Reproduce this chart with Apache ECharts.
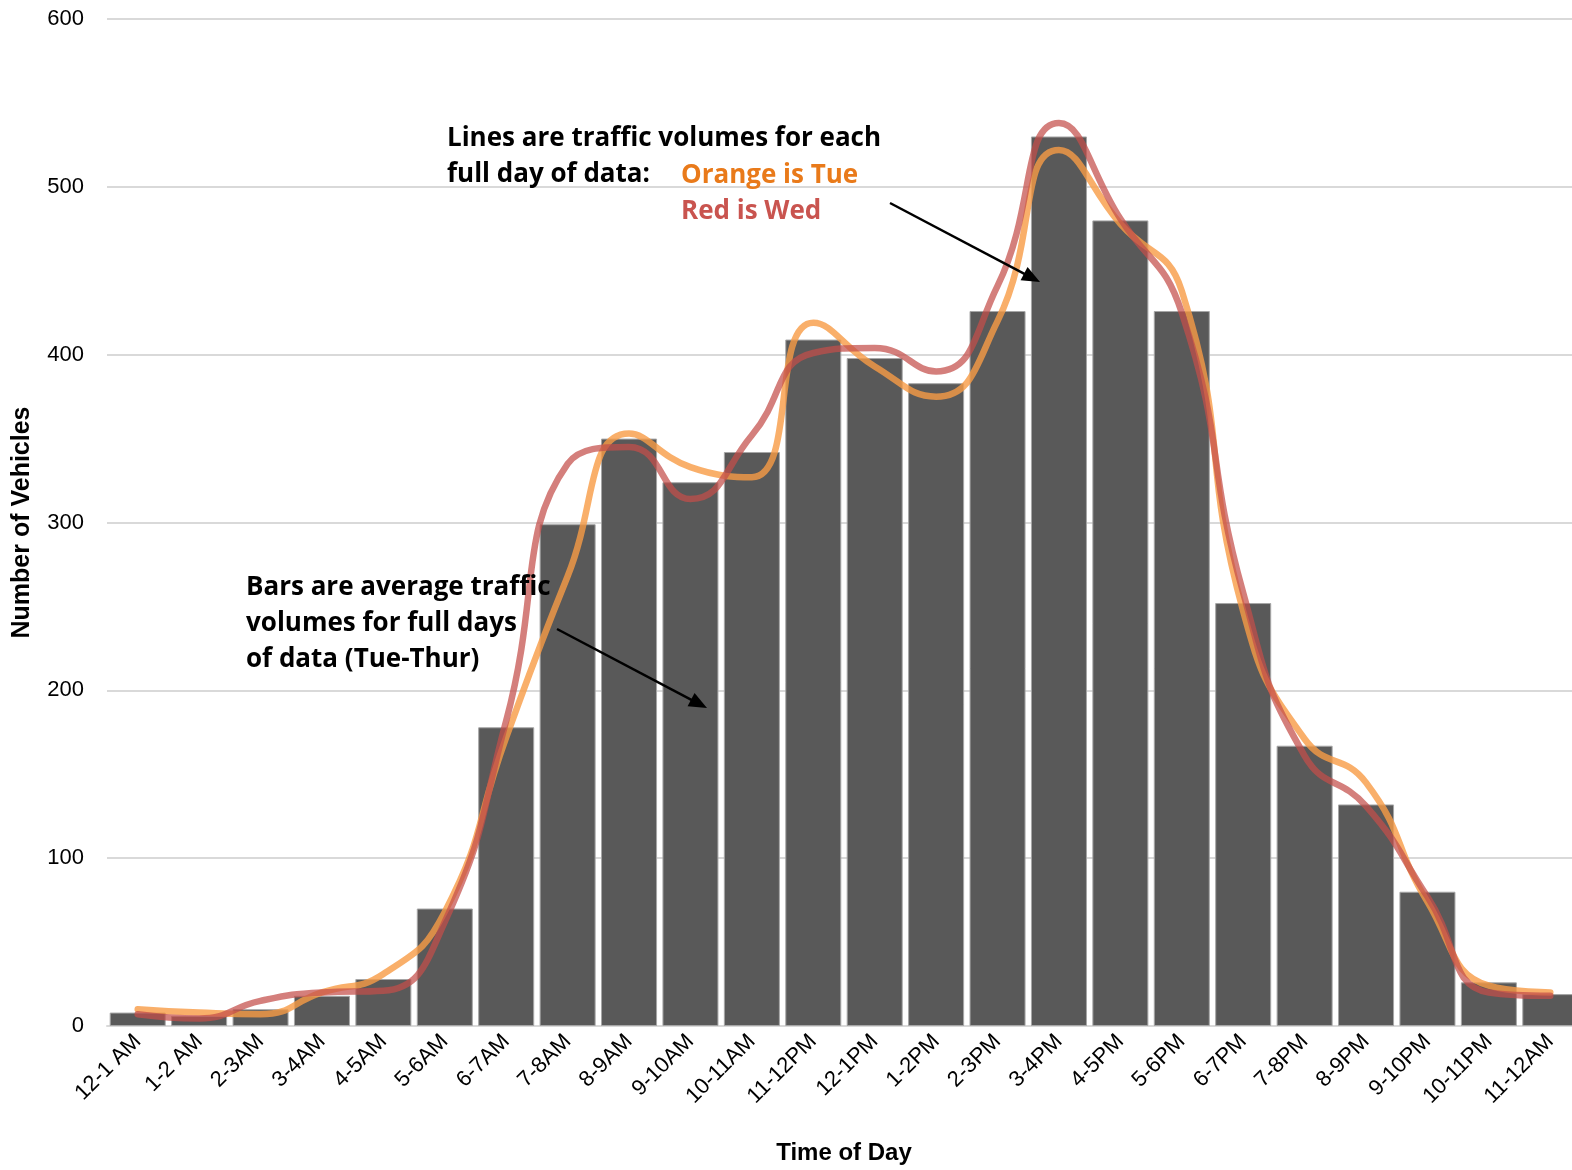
<!DOCTYPE html>
<html>
<head>
<meta charset="utf-8">
<script src="https://cdn.jsdelivr.net/npm/echarts@6/dist/echarts.min.js"></script>
<style>
  html, body { margin: 0; padding: 0; background: #ffffff; overflow: hidden; width: 1572px; height: 1170px; }
  #chart { width: 1582px; height: 1170px; }
</style>
</head>
<body>
<div id="chart"></div>
<script>
const categories = ['12-1 AM', '1-2 AM', '2-3AM', '3-4AM', '4-5AM', '5-6AM', '6-7AM', '7-8AM', '8-9AM', '9-10AM', '10-11AM', '11-12PM', '12-1PM', '1-2PM', '2-3PM', '3-4PM', '4-5PM', '5-6PM', '6-7PM', '7-8PM', '8-9PM', '9-10PM', '10-11PM', '11-12AM'];
const avgVolume = [8, 6, 10, 18, 28, 70, 178, 299, 350, 324, 342, 409, 398, 383, 426, 530, 480, 426, 252, 167, 132, 80, 26, 19];
const tueVolume = [10, 8, 7, 20, 31, 68, 172, 268, 353, 333, 327, 419, 393, 375, 420, 522, 478, 438, 247, 171, 145, 74, 24, 20];
const wedVolume = [7, 4.5, 15, 20, 21, 62, 182, 335, 345, 314, 352, 401, 404, 390, 441, 538, 481, 425, 258, 161, 131, 77, 20, 18];
const yMin = 0, yMax = 600, yStep = 100;

const chart = echarts.init(document.getElementById('chart'), null, { renderer: 'canvas' });

const annFont = 'bold 26px "Open Sans", Lato, sans-serif';
function txt(x, y, s, color) {
  return { type: 'text', z: 100, x: x, y: y,
    style: { text: s, font: annFont, fill: color || '#000000', textVerticalAlign: 'middle', textAlign: 'left' } };
}
function arrow(x1, y1, x2, y2) {
  const dx = x2 - x1, dy = y2 - y1, L = Math.sqrt(dx * dx + dy * dy);
  const ux = dx / L, uy = dy / L, hl = 18, hw = 7.5;
  const bx = x2 - ux * hl, by = y2 - uy * hl;
  return [
    { type: 'line', z: 100, shape: { x1: x1, y1: y1, x2: bx + ux * 2, y2: by + uy * 2 }, style: { stroke: '#000', lineWidth: 2.5 } },
    { type: 'polygon', z: 100, shape: { points: [[x2, y2], [bx - uy * hw, by + ux * hw], [bx + uy * hw, by - ux * hw]] }, style: { fill: '#000' } }
  ];
}

const option = {
  backgroundColor: '#ffffff',
  animation: false,
  grid: { left: 107, top: 19, right: 1, bottom: 143, containLabel: false },
  xAxis: {
    type: 'category',
    data: categories,
    boundaryGap: true,
    axisLine: { show: true, lineStyle: { color: '#d9d9d9', width: 2 } },
    axisTick: { show: false },
    axisLabel: { rotate: 45, margin: 12, fontSize: 22, color: '#000', fontFamily: '"Liberation Sans", Arial, sans-serif', interval: 0 },
    name: 'Time of Day',
    nameLocation: 'middle',
    nameGap: 115,
    nameTextStyle: { fontSize: 24, fontWeight: 'bold', color: '#000', fontFamily: '"Liberation Sans", Arial, sans-serif', verticalAlign: 'top' }
  },
  yAxis: {
    type: 'value',
    min: yMin, max: yMax, interval: yStep,
    axisLine: { show: false },
    axisTick: { show: false },
    splitLine: { lineStyle: { color: '#d9d9d9', width: 2 } },
    axisLabel: { margin: 23, fontSize: 22, color: '#000', fontFamily: '"Liberation Sans", Arial, sans-serif' },
    name: 'Number of Vehicles',
    nameLocation: 'middle',
    nameGap: 72,
    nameRotate: 90,
    nameTextStyle: { fontSize: 25, fontWeight: 'bold', color: '#000', fontFamily: '"Liberation Sans", Arial, sans-serif' }
  },
  series: [
    {
      name: 'Average', type: 'bar', data: avgVolume, barCategoryGap: '8.8%', z: 2,
      itemStyle: { color: '#595959', borderColor: '#a6a6a6', borderWidth: 1 }
    },
    {
      name: 'Tue', type: 'line', data: tueVolume, smooth: 0.5, symbol: 'none', z: 3,
      lineStyle: { color: '#F79B45', width: 6.5, opacity: 0.8, cap: 'round' }
    },
    {
      name: 'Wed', type: 'line', data: wedVolume, smooth: 0.5, symbol: 'none', z: 4,
      lineStyle: { color: '#C44E49', width: 6.5, opacity: 0.72, cap: 'round' }
    }
  ],
  graphic: [
    txt(447, 139, 'Lines are traffic volumes for each'),
    txt(447, 175, 'full day of data:'),
    txt(681, 176, 'Orange is Tue', '#E97A1A'),
    txt(681, 212, 'Red is Wed', '#C9544F'),
    txt(246, 588, 'Bars are average traffic'),
    txt(246, 624, 'volumes for full days'),
    txt(246, 660, 'of data (Tue-Thur)')
  ].concat(arrow(890, 203, 1040, 282)).concat(arrow(557, 629, 707, 708))
};
chart.setOption(option);
</script>
</body>
</html>
